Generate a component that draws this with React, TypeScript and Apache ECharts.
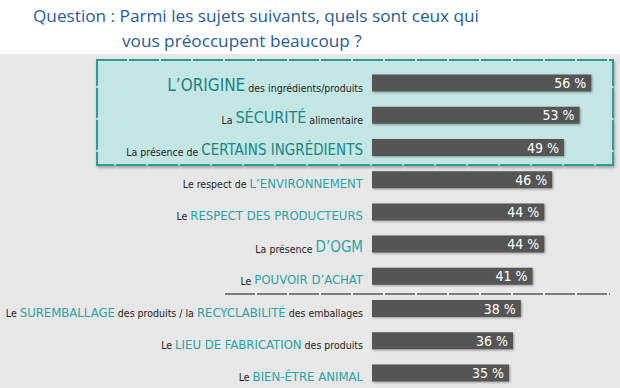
import React, { useEffect, useRef } from "react";
import * as echarts from "echarts";

const titleLines = [
  "Question : Parmi les sujets suivants, quels sont ceux qui",
  "vous préoccupent beaucoup ?",
];

// label segments: [style key, text]
const labelParts: [string, string][][] = [
  [["T1", "L’ORIGINE"], ["b", " des ingrédients/produits"]],
  [["b", "La "], ["T2", "SÉCURITÉ"], ["b", " alimentaire"]],
  [["b", "La présence de "], ["T3", "CERTAINS INGRÉDIENTS"]],
  [["b", "Le respect de "], ["t", "L’ENVIRONNEMENT"]],
  [["b", "Le "], ["t", "RESPECT DES PRODUCTEURS"]],
  [["b", "La présence "], ["t2", "D’OGM"]],
  [["b", "Le "], ["t", "POUVOIR D’ACHAT"]],
  [["b", "Le "], ["t", "SUREMBALLAGE"], ["b", " des produits / la "], ["t", "RECYCLABILITÉ"], ["b", " des emballages"]],
  [["b", "Le "], ["t", "LIEU DE FABRICATION"], ["b", " des produits"]],
  [["b", "Le "], ["t", "BIEN-ÊTRE ANIMAL"]],
];

const categories = labelParts.map((p) => p.map((s) => s[1]).join(""));
const values = [56, 53, 49, 46, 44, 44, 41, 38, 36, 35];

const FONT = "'Liberation Sans Narrow', 'DejaVu Sans Condensed', 'Liberation Sans', sans-serif";

export default function App() {
  const ref = useRef<HTMLDivElement>(null);
  useEffect(() => {
    document.body.style.margin = "0";
    const chart = echarts.init(ref.current!, undefined, { renderer: "svg" });
    const mk = (size: number, color: string) => ({
      fontFamily: FONT,
      fontSize: size,
      color,
      verticalAlign: "bottom",
      lineHeight: 20,
    });
    const rich: any = {
      b: mk(10.5, "#222222"),
      t: mk(13, "#27a3a3"),
      t2: mk(15, "#27a3a3"),
      T1: mk(17, "#178582"),
      T2: mk(16, "#178582"),
      T3: mk(15, "#178582"),
    };
    chart.setOption({
      animation: false,
      backgroundColor: "#ffffff",
      graphic: {
        elements: [
          {
            type: "rect",
            z: -20,
            shape: { x: 0, y: 54, width: 620, height: 334 },
            style: { fill: "#e7e7e7" },
            silent: true,
          },
          {
            type: "rect",
            z: -10,
            shape: { x: 97, y: 60, width: 516, height: 105 },
            style: {
              fill: "#c3e6e4",
              stroke: "#2a9d96",
              lineWidth: 2,
              lineDash: [30, 2],
              shadowColor: "rgba(0,0,0,0.3)",
              shadowBlur: 3,
              shadowOffsetX: 1,
              shadowOffsetY: 2,
            },
            silent: true,
          },
          {
            type: "line",
            z: -5,
            shape: { x1: 225, y1: 294, x2: 610, y2: 294 },
            style: { stroke: "#7a7a7a", lineWidth: 2, lineDash: [30, 2] },
            silent: true,
          },
          {
            type: "text",
            x: 33,
            y: 15,
            style: {
              text: titleLines[0],
              fontFamily: "'Open Sans', 'Noto Sans', sans-serif",
              fontSize: 17.2,
              fill: "#1f5c9c",
              verticalAlign: "middle",
              align: "left",
            },
          },
          {
            type: "text",
            x: 122,
            y: 40,
            style: {
              text: titleLines[1],
              fontFamily: "'Open Sans', 'Noto Sans', sans-serif",
              fontSize: 17.2,
              fill: "#1f5c9c",
              verticalAlign: "middle",
              align: "left",
            },
          },
        ],
      },
      grid: { left: 372, top: 67, width: 235, height: 322, outerBoundsMode: "none", containLabel: false },
      xAxis: {
        type: "value",
        min: 0,
        max: 60,
        show: false,
        splitLine: { show: false },
      },
      yAxis: {
        type: "category",
        data: categories,
        inverse: true,
        axisLine: { show: false },
        axisTick: { show: false },
        axisLabel: {
          margin: 9,
          rich,
          formatter: (_v: string, i: number) =>
            labelParts[i].map(([k, s]) => `{${k}|${s}}`).join(""),
        },
      },
      series: [
        {
          type: "bar",
          data: values,
          barWidth: 17,
          itemStyle: {
            color: "#555555",
            shadowColor: "rgba(0,0,0,0.35)",
            shadowBlur: 2,
            shadowOffsetX: 1,
            shadowOffsetY: 1,
          },
          label: {
            show: true,
            position: "insideRight",
            distance: 5,
            color: "#ffffff",
            fontFamily: FONT,
            fontSize: 14,
            formatter: "{c} %",
          },
        },
      ],
    });
    return () => chart.dispose();
  }, []);
  return <div ref={ref} style={{ width: 620, height: 388 }} />;
}
